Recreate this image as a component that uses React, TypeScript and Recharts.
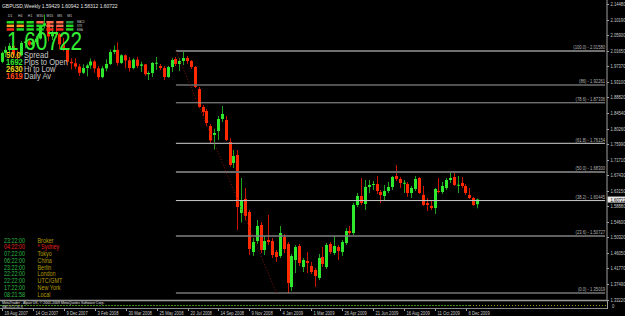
import { ComposedChart, Bar, XAxis, YAxis, ReferenceLine } from 'recharts';

// weekly GBPUSD, bar 0 = week of 19 Aug 2007
const opens = [
  1.986, 2.0105, 2.019, 2.03, 2.006, 2.004, 2.038, 2.042, 2.033, 2.04, 2.05, 2.085, 2.092, 2.056, 2.064, 2.062, 2.034, 2.019, 1.986, 1.982,
  1.973, 1.956, 1.969, 1.976, 1.987, 1.968, 1.944, 1.968, 1.98, 2.013, 2.019, 1.983, 2.004, 1.99, 1.969, 1.992, 1.975, 1.979, 1.952, 1.9553,
  1.982, 1.9745, 1.969, 1.9443, 1.9718, 1.9938, 1.98, 1.9883, 1.9965, 1.9883, 1.9718, 1.9113, 1.8618, 1.8508, 1.8095, 1.785, 1.7958, 1.8288, 1.826, 1.7655,
  1.7078, 1.7298, 1.5702, 1.6088, 1.573, 1.463, 1.4932, 1.5373, 1.4685, 1.496, 1.4932, 1.463, 1.452, 1.5042, 1.485, 1.3667, 1.441, 1.4795, 1.4217, 1.4382,
  1.4245, 1.4135, 1.3915, 1.4492, 1.4217, 1.485, 1.4602, 1.4767, 1.463, 1.4877, 1.5207, 1.5152, 1.5922, 1.617, 1.595, 1.6418, 1.649, 1.65, 1.628, 1.617,
  1.6308, 1.6418, 1.672, 1.6638, 1.652, 1.65, 1.6253, 1.6363, 1.6665, 1.6198, 1.5977, 1.5895, 1.584, 1.6308, 1.628, 1.639, 1.661, 1.6693, 1.6465, 1.6528,
  1.6445, 1.6198, 1.6115, 1.59429,
];
const highs = [
  2.014, 2.028, 2.038, 2.034, 2.017, 2.043, 2.047, 2.046, 2.047, 2.057, 2.088, 2.116, 2.096, 2.082, 2.082, 2.065, 2.052, 2.022, 1.996, 1.996,
  1.98, 1.979, 1.981, 1.995, 1.992, 1.975, 1.974, 1.993, 2.02, 2.031, 2.04, 2.007, 2.006, 1.999, 1.996, 2.0, 1.986, 1.98, 1.96, 1.9855,
  1.9993, 1.98, 1.9745, 1.975, 1.9965, 1.999, 1.9965, 2.0158, 2.0021, 1.991, 1.9745, 1.9168, 1.8673, 1.8563, 1.815, 1.802, 1.837, 1.8645, 1.837, 1.776,
  1.7435, 1.7435, 1.6665, 1.639, 1.5785, 1.5015, 1.551, 1.5455, 1.507, 1.565, 1.5015, 1.4685, 1.5345, 1.5125, 1.4905, 1.4575, 1.4822, 1.485, 1.4465, 1.463,
  1.4355, 1.419, 1.4575, 1.4767, 1.4877, 1.4905, 1.507, 1.4822, 1.496, 1.529, 1.5345, 1.5977, 1.6252, 1.6665, 1.661, 1.661, 1.6583, 1.672, 1.6335, 1.6473,
  1.6555, 1.672, 1.7023, 1.6693, 1.661, 1.6555, 1.6445, 1.672, 1.6693, 1.6445, 1.6115, 1.606, 1.639, 1.6665, 1.6555, 1.6665, 1.6803, 1.6858, 1.672, 1.6693,
  1.65, 1.639, 1.6143, 1.60942,
];
const lows = [
  1.982, 1.999, 2.006, 2.0, 1.993, 2.001, 2.023, 2.029, 2.029, 2.035, 2.047, 2.078, 2.043, 2.046, 2.052, 2.021, 2.015, 1.976, 1.965, 1.966,
  1.947, 1.952, 1.946, 1.967, 1.956, 1.937, 1.941, 1.96, 1.977, 2.007, 1.976, 1.98, 1.968, 1.959, 1.965, 1.969, 1.958, 1.948, 1.936, 1.9443,
  1.9635, 1.9635, 1.936, 1.942, 1.958, 1.9745, 1.9608, 1.9773, 1.98, 1.9663, 1.914, 1.859, 1.837, 1.8095, 1.76, 1.745, 1.771, 1.8205, 1.768, 1.698,
  1.694, 1.5235, 1.544, 1.551, 1.4547, 1.452, 1.485, 1.4602, 1.4547, 1.4822, 1.4465, 1.4355, 1.4465, 1.4602, 1.35019, 1.3557, 1.4052, 1.4245, 1.408, 1.4052,
  1.4025, 1.3667, 1.386, 1.4217, 1.4162, 1.4575, 1.4547, 1.441, 1.452, 1.4822, 1.5097, 1.5097, 1.5867, 1.5922, 1.5785, 1.6253, 1.6335, 1.6225, 1.5977, 1.6033,
  1.6253, 1.6335, 1.6583, 1.639, 1.6253, 1.6143, 1.6115, 1.6308, 1.6225, 1.5895, 1.5757, 1.5785, 1.5675, 1.6253, 1.6225, 1.6335, 1.6528, 1.6445, 1.6253, 1.639,
  1.6198, 1.6088, 1.5895, 1.58312,
];
const closes = [
  2.0105, 2.019, 2.03, 2.006, 2.004, 2.038, 2.042, 2.033, 2.04, 2.05, 2.085, 2.092, 2.056, 2.064, 2.062, 2.034, 2.019, 1.986, 1.982, 1.973,
  1.956, 1.969, 1.976, 1.987, 1.968, 1.944, 1.968, 1.98, 2.013, 2.019, 1.983, 2.004, 1.99, 1.969, 1.992, 1.975, 1.979, 1.952, 1.9553, 1.9828,
  1.9835, 1.969, 1.9443, 1.9718, 1.991, 1.98, 1.9883, 1.9965, 1.9883, 1.9718, 1.9168, 1.8618, 1.848, 1.8178, 1.77, 1.7903, 1.8288, 1.8425, 1.771, 1.7023,
  1.727, 1.5867, 1.606, 1.562, 1.4712, 1.4905, 1.5345, 1.4685, 1.4932, 1.4905, 1.4547, 1.4492, 1.5152, 1.4712, 1.3777, 1.452, 1.4767, 1.4327, 1.441, 1.4327,
  1.408, 1.397, 1.4465, 1.43, 1.4822, 1.463, 1.4795, 1.4657, 1.4905, 1.5207, 1.5152, 1.5922, 1.617, 1.5977, 1.6418, 1.6473, 1.65, 1.6308, 1.6198, 1.6308,
  1.6418, 1.6693, 1.6638, 1.6528, 1.6535, 1.6253, 1.639, 1.6638, 1.6253, 1.5922, 1.5922, 1.584, 1.6363, 1.628, 1.6445, 1.661, 1.6665, 1.6473, 1.648, 1.6445,
  1.6253, 1.6115, 1.5922, 1.60722,
];

const SLOTS = 157; // bars + empty chart shift on the right
const dateLabels = [
  '19 Aug 2007', '14 Oct 2007', '9 Dec 2007', '3 Feb 2008', '30 Mar 2008', '25 May 2008', '20 Jul 2008', '14 Sep 2008',
  '9 Nov 2008', '4 Jan 2009', '1 Mar 2009', '26 Apr 2009', '21 Jun 2009', '16 Aug 2009', '11 Oct 2009', '6 Dec 2009',
];
const priceTicks = [
  2.1448, 2.1019, 2.059, 2.0165, 1.9737, 1.931, 1.8882, 1.8454, 1.8026, 1.7599, 1.7171, 1.6743, 1.6315, 1.5888, 1.546, 1.5032,
  1.4605, 1.4177, 1.3749, 1.3322,
];
const fibPct = ['100.0', '86', '78.6', '61.8', '50.0', '38.2', '23.6', '0.0'];
const fibValues = [2.0158, 1.92261, 1.87336, 1.76154, 1.683, 1.60445, 1.50727, 1.35019];
const fibFrom = 45;
const fibTo = 156;
const trendTo = 71;
const lastPrice = 1.60722;

const tfNames = ['D1', 'H4', 'H1', 'M30', 'M15', 'M5', 'M1'];
const rowNames = ['MACD', 'STR', 'EMA'];
const signals = [
  ['up', 'up', 'up', 'wk', 'wk', 'wk', 'up2'],
  ['nt', 'nt', 'up', 'up', 'wk', 'wk', 'up'],
  ['dn', 'up', 'up', 'up', 'dn', 'dn', 'up'],
];
const infoNums = ['50.0', '1692', '2630', '1619'];
const infoLabels = ['Spread', 'Pips to Open', 'Hi to Low', 'Daily Av'];
const clockTimes = ['23:22:00', '04:22:00', '07:22:00', '06:22:00', '23:22:00', '22:22:00', '22:22:00', '17:22:00', '08:21:58'];
const clockCities = ['Broker', '* Sydney', 'Tokyo', 'China', 'Berlin', 'London', 'UTC/GMT', 'New York', 'Local'];

const rows = Array.from({ length: SLOTS }, (_, i) => ({
  i,
  o: opens[i],
  h: highs[i],
  l: lows[i],
  c: closes[i],
}));

const FONT = 'Liberation Sans, Arial, sans-serif';
const sigColor: Record<string, string> = {
  up: '#22dd22',
  up2: '#1f9a3c',
  wk: '#ff6a4a',
  dn: '#ff2a1a',
  nt: '#ffa020',
};
const infoColors = ['#e8c21a', '#2ee82e', '#e8d21a', '#ff4a1a'];
const fibStroke = ['#707070', '#6c6c6c', '#9c9c9c', '#a8a8a8', '#6c6c6c', '#c8c8c8', '#808080', '#b0b0b0'];
const fibWidth = [2, 1.5, 1, 1.2, 2, 1, 1.5, 1];

function T({ x, y, s = 6, fill = '#dcdcdc', sx = 0.8, anchor = 'start', bold = false, children }: any) {
  return (
    <text
      transform={`translate(${x},${y}) scale(${sx},1)`}
      fontSize={s}
      fill={fill}
      fontFamily={FONT}
      fontWeight={bold ? 700 : 400}
      textAnchor={anchor}
    >
      {children}
    </text>
  );
}

function Candle(props: any) {
  const { x, y, width, height, payload } = props;
  if (!payload || payload.h == null) return null;
  const top = Math.min(y, y + height);
  const span = Math.abs(height);
  const k = payload.h === payload.l ? 0 : span / (payload.h - payload.l);
  const py = (v: number) => top + (payload.h - v) * k;
  const up = payload.c >= payload.o;
  const cx = Math.round(x + width / 2) + 0.5;
  const bt = py(Math.max(payload.o, payload.c));
  const bb = py(Math.min(payload.o, payload.c));
  return (
    <g>
      <line x1={cx} x2={cx} y1={top} y2={top + span} stroke={up ? '#1fa51f' : '#c81400'} strokeWidth={1} />
      <rect x={cx - 1.5} y={bt} width={3} height={Math.max(1, bb - bt)} fill={up ? '#2ee82e' : '#ff2a00'} />
    </g>
  );
}

function DateTick(props: any) {
  const { x, y, payload } = props;
  const i = Number(payload.value);
  if (i % 8 !== 0 || i / 8 >= dateLabels.length) return null;
  const px = Math.round(x) + 0.5;
  return (
    <g>
      <line x1={px} x2={px} y1={y} y2={y + 3} stroke="#a0a0a0" />
      <T x={px + 2} y={y + 6.5} s={5.2} fill="#c8c8c8">
        {dateLabels[i / 8]}
      </T>
    </g>
  );
}

function PriceTick(props: any) {
  const { y, payload } = props;
  return (
    <g>
      <line x1={607} x2={609} y1={Math.round(y) + 0.5} y2={Math.round(y) + 0.5} stroke="#a0a0a0" />
      <T x={610.5} y={y + 2} s={5.2} fill="#c8c8c8">
        {Number(payload.value).toFixed(5)}
      </T>
    </g>
  );
}

const candleRange = (d: any) => (d.h == null ? null : [d.l, d.h]);

export default function App() {
  return (
    <div style={{ position: 'fixed', left: 0, top: 0, width: 625, height: 316, background: '#000', overflow: 'hidden' }}>
      <ComposedChart
        width={625}
        height={316}
        data={rows}
        margin={{ top: 0, right: 0, bottom: 0, left: 0 }}
        barCategoryGap={0}
        style={{ position: 'absolute', left: 0, top: 0 }}
      >
        <XAxis
          dataKey="i"
          type="category"
          height={16}
          interval={0}
          tickSize={0}
          tickMargin={8}
          axisLine={false}
          tickLine={false}
          tick={(p: any) => <DateTick {...p} />}
        />
        <YAxis
          orientation="right"
          type="number"
          width={18}
          domain={[1.33094, 2.15607]}
          ticks={priceTicks}
          interval={0}
          allowDataOverflow
          tickSize={0}
          tickLine={false}
          axisLine={{ stroke: '#a0a0a0' }}
          tick={(p: any) => <PriceTick {...p} />}
        />
        {fibValues.map((v, k) => (
          <ReferenceLine
            key={fibPct[k]}
            segment={[
              { x: fibFrom, y: v },
              { x: fibTo, y: v },
            ]}
            stroke={fibStroke[k]}
            strokeWidth={fibWidth[k]}
            ifOverflow="visible"
            label={(p: any) => {
              const vb = p.viewBox || {};
              return (
                <T x={vb.x + vb.width} y={vb.y - 1.8} s={5.2} fill="#b4b4b4" anchor="end">
                  {`(${fibPct[k]}) - ${v.toFixed(5)}`}
                </T>
              );
            }}
          />
        ))}
        <ReferenceLine
          segment={[
            { x: fibFrom, y: fibValues[0] },
            { x: trendTo, y: fibValues[fibValues.length - 1] },
          ]}
          stroke="#8a1208"
          strokeDasharray="1 2"
          ifOverflow="visible"
        />
        <Bar dataKey={candleRange} barSize={3} isAnimationActive={false} shape={(p: any) => <Candle {...p} />} />
        <ReferenceLine
          y={lastPrice}
          stroke="none"
          ifOverflow="visible"
          label={(p: any) => {
            const vb = p.viewBox || {};
            const r = vb.x + vb.width;
            return (
              <g>
                <rect x={r + 0.5} y={vb.y - 3} width={17.5} height={6} fill="#e8e8e8" />
                <T x={r + 3.5} y={vb.y + 2} s={5.2} fill="#000">
                  {lastPrice.toFixed(5)}
                </T>
              </g>
            );
          }}
        />
      </ComposedChart>

      <svg width={625} height={316} style={{ position: 'absolute', left: 0, top: 0, pointerEvents: 'none' }}>
        {/* indicator sub-window */}
        <line x1={0} x2={607} y1={300.5} y2={300.5} stroke="#9a9a9a" strokeWidth={1.5} />
        <line x1={0} x2={470} y1={305.5} y2={305.5} stroke="#3f8a12" strokeDasharray="2 1" />
        <line x1={470} x2={607} y1={305.5} y2={305.5} stroke="#9a9a10" strokeDasharray="1 2" />
        <line x1={0} x2={607} y1={308.5} y2={308.5} stroke="#8a8a8a" />
        <line x1={607.5} x2={607.5} y1={300} y2={309} stroke="#a0a0a0" />
        <T x={612} y={307.5} s={5.2} fill="#c8c8c8">0</T>
        <T x={2} y={303.5} s={4.4} fill="#e0e0e0">MetaTrader - Alpari UK, © 2001-2009 MetaQuotes Software Corp.</T>
        <T x={2} y={307.8} s={3.8} fill="#d8d8d8">MACD(12,26,9)</T>

        {/* header */}
        <T x={2} y={7.5} s={6.2} fill="#e6e6e6">GBPUSD,Weekly  1.59429 1.60942 1.58312 1.60722</T>

        {/* signal table */}
        {tfNames.map((n, c) => (
          <T key={n} x={10.3 + c * 9.9} y={16.5} s={4.4} fill="#c8c8c8" anchor="middle">
            {n}
          </T>
        ))}
        {signals.map((row, r) =>
          row.map((s, c) => (
            <rect key={`${r}-${c}`} x={6.7 + c * 9.9} y={21 + r * 3.6} width={7.3} height={2.5} fill={sigColor[s]} />
          ))
        )}
        {rowNames.map((n, r) => (
          <T key={n} x={77} y={23.3 + r * 3.6} s={3.3} fill="#c0c0c0">
            {n}
          </T>
        ))}

        {/* big price */}
        <T x={7} y={49.5} s={25} sx={0.83} fill="#33ee33">
          {lastPrice.toFixed(5)}
        </T>

        {infoNums.map((n, r) => (
          <g key={n}>
            <T x={6} y={57.5 + r * 7} s={9} sx={0.84} bold fill={infoColors[r]}>
              {n}
            </T>
            <T x={24} y={57.5 + r * 7} s={9} sx={0.84} fill="#c8c8c8">
              {infoLabels[r]}
            </T>
          </g>
        ))}

        {/* clocks */}
        {clockTimes.map((t, r) => {
          const red = clockCities[r].startsWith('*');
          return (
            <g key={r}>
              <T x={4} y={242.5 + r * 6.75} s={6.8} fill={red ? '#e02020' : '#2cb844'}>
                {t}
              </T>
              <T x={37.5} y={242.5 + r * 6.75} s={6.8} fill={red ? '#e02020' : '#b49c00'}>
                {clockCities[r]}
              </T>
            </g>
          );
        })}
      </svg>
    </div>
  );
}
